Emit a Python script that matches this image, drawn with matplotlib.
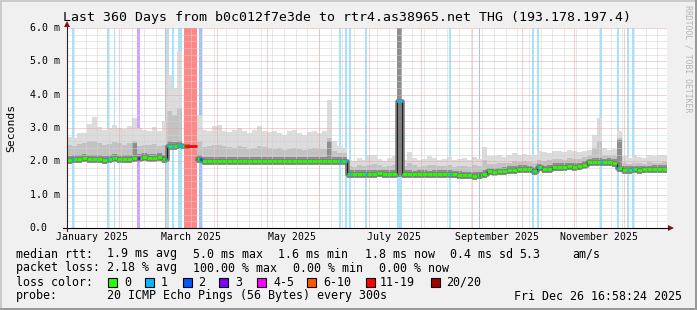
#SmokePing style latency graph: smoke (ping spread), median rtt coloured by loss
#and loss background bars, drawn with matplotlib

from datetime import datetime
import numpy as np
import matplotlib.pyplot as plt
from matplotlib.patches import Rectangle, Polygon
from matplotlib.lines import Line2D

nan = np.nan
W, H = 697, 310 #picture size in pixels

start = datetime(2024, 12, 31, 16, 58, 24)#first time of the graph
span_days = 360
step_days = 3#one sample every 3 days

#median rtt (ms) per sample
med = [
    2.05, 2.07, 2.06, 2.09, 2.07, 2.08, 2.06, 2.05, 2.08, 2.09,
    2.07, 2.06, 2.08, 2.10, 2.11, 2.13, 2.10, 2.09, 2.12, 2.07,
    2.47, 2.46, 2.48, 2.46, nan, nan, 2.08, 2.01, 2.00, 2.01,
    2.02, 2.00, 2.01, 2.00, 2.00, 2.01, 2.02, 2.00, 2.01, 2.01,
    2.00, 2.00, 2.01, 2.02, 2.01, 2.00, 2.00, 2.01, 2.00, 2.01,
    2.02, 2.01, 2.00, 2.01, 2.02, 2.01, 1.63, 1.62, 1.63, 1.63,
    1.62, 1.63, 1.64, 1.63, 1.62, 1.63, 3.80, 1.62, 1.62, 1.61,
    1.62, 1.62, 1.61, 1.62, 1.63, 1.62, 1.62, 1.61, 1.60, 1.58,
    1.58, 1.57, 1.58, 1.62, 1.70, 1.69, 1.70, 1.72, 1.74, 1.75,
    1.77, 1.78, 1.76, 1.70, 1.82, 1.76, 1.78, 1.83, 1.84, 1.84,
    1.85, 1.84, 1.85, 1.90, 1.97, 1.98, 1.98, 1.97, 1.98, 1.96,
    1.80, 1.74, 1.75, 1.76, 1.75, 1.76, 1.76, 1.77, 1.78, 1.77,
]
#slowest ping (ms)
top = [
    2.74, 2.70, 2.85, 2.85, 3.12, 3.34, 3.04, 2.94, 3.00, 3.10,
    3.00, 2.98, 3.05, 3.30, 3.00, 2.95, 2.90, 3.02, 2.90, 3.20,
    4.60, 4.20, 5.30, 3.40, nan, nan, 3.40, 2.95, 2.90, 3.05,
    3.10, 2.92, 2.88, 2.95, 3.00, 2.90, 2.85, 2.95, 3.05, 2.90,
    2.88, 2.92, 2.85, 2.80, 2.90, 2.95, 2.85, 2.80, 2.88, 2.92,
    2.85, 2.90, 3.85, 2.60, 2.45, 2.40, 2.05, 2.00, 2.10, 2.05,
    2.18, 2.20, 2.08, 2.02, 2.10, 2.15, 9.00, 2.05, 2.28, 2.10,
    2.05, 2.08, 2.15, 2.10, 2.05, 2.08, 2.12, 2.05, 2.08, 2.10,
    2.05, 2.12, 2.08, 2.43, 2.15, 2.15, 2.20, 2.12, 2.18, 2.25,
    2.20, 2.22, 2.18, 2.20, 2.30, 2.28, 2.25, 2.32, 2.30, 2.28,
    2.34, 2.30, 2.28, 2.32, 2.35, 2.80, 3.30, 2.40, 2.35, 2.38,
    2.90, 2.15, 2.10, 2.18, 2.12, 2.10, 2.20, 2.15, 2.18, 2.20,
]
#upper edge of the medium smoke
hi = [
    2.50, 2.45, 2.52, 2.55, 2.60, 2.62, 2.55, 2.50, 2.52, 2.58,
    2.55, 2.50, 2.55, 2.60, 2.45, 2.50, 2.48, 2.52, 2.45, 2.50,
    3.50, 3.40, 3.60, 3.00, nan, nan, 2.60, 2.42, 2.45, 2.48,
    2.50, 2.45, 2.42, 2.40, 2.45, 2.42, 2.38, 2.40, 2.45, 2.42,
    2.40, 2.38, 2.40, 2.35, 2.38, 2.40, 2.36, 2.35, 2.38, 2.40,
    2.36, 2.38, 2.70, 2.30, 2.25, 2.25, 1.85, 1.82, 1.88, 1.85,
    1.90, 1.92, 1.88, 1.84, 1.86, 1.88, 9.00, 1.85, 1.95, 1.88,
    1.84, 1.86, 1.90, 1.88, 1.85, 1.86, 1.88, 1.84, 1.85, 1.86,
    1.82, 1.88, 1.86, 2.05, 1.92, 1.92, 1.95, 1.94, 1.96, 2.00,
    1.98, 2.00, 1.98, 1.95, 2.05, 2.02, 2.03, 2.08, 2.06, 2.05,
    2.10, 2.08, 2.06, 2.12, 2.18, 2.40, 2.60, 2.20, 2.18, 2.20,
    2.70, 1.95, 1.92, 1.96, 1.94, 1.93, 1.98, 1.95, 1.96, 1.98,
]
#upper edge of the dark smoke
mid = [
    2.17, 2.19, 2.18, 2.21, 2.19, 2.20, 2.18, 2.17, 2.20, 2.21,
    2.19, 2.18, 2.20, 2.55, 2.23, 2.25, 2.22, 2.21, 2.24, 2.19,
    2.60, 2.58, 2.60, 2.58, nan, nan, 2.20, 2.13, 2.12, 2.13,
    2.14, 2.12, 2.13, 2.12, 2.12, 2.13, 2.14, 2.12, 2.13, 2.13,
    2.12, 2.12, 2.13, 2.14, 2.13, 2.12, 2.12, 2.13, 2.12, 2.13,
    2.14, 2.13, 2.60, 2.13, 2.14, 2.13, 1.74, 1.73, 1.74, 1.74,
    1.73, 1.74, 1.75, 1.74, 1.73, 1.74, 9.00, 1.73, 1.73, 1.72,
    1.73, 1.73, 1.72, 1.73, 1.74, 1.73, 1.73, 1.72, 1.71, 1.69,
    1.69, 1.68, 1.69, 1.73, 1.81, 1.80, 1.81, 1.83, 1.85, 1.86,
    1.88, 1.89, 1.87, 1.81, 1.93, 1.87, 1.89, 1.94, 1.95, 1.95,
    1.96, 1.95, 1.96, 2.01, 2.08, 2.09, 2.09, 2.08, 2.09, 2.07,
    2.65, 1.85, 1.86, 1.87, 1.86, 1.87, 1.87, 1.88, 1.89, 1.88,
]
#fastest ping (ms)
low = [
    1.93, 1.95, 1.94, 1.97, 1.95, 1.96, 1.94, 1.93, 1.96, 1.97,
    1.95, 1.94, 1.96, 1.98, 1.99, 2.01, 1.98, 1.97, 2.00, 1.95,
    2.35, 2.34, 2.36, 2.34, nan, nan, 1.96, 1.89, 1.88, 1.89,
    1.90, 1.88, 1.89, 1.88, 1.88, 1.89, 1.90, 1.88, 1.89, 1.89,
    1.88, 1.88, 1.89, 1.90, 1.89, 1.88, 1.88, 1.89, 1.88, 1.89,
    1.90, 1.89, 1.88, 1.89, 1.90, 1.89, 1.51, 1.50, 1.51, 1.51,
    1.50, 1.51, 1.52, 1.51, 1.50, 1.51, 1.52, 1.50, 1.50, 1.49,
    1.50, 1.50, 1.49, 1.50, 1.51, 1.50, 1.50, 1.49, 1.48, 1.46,
    1.46, 1.45, 1.46, 1.50, 1.58, 1.57, 1.58, 1.60, 1.62, 1.63,
    1.65, 1.66, 1.64, 1.58, 1.70, 1.64, 1.66, 1.71, 1.72, 1.72,
    1.73, 1.72, 1.73, 1.78, 1.85, 1.86, 1.86, 1.85, 1.86, 1.84,
    1.68, 1.62, 1.63, 1.64, 1.63, 1.64, 1.64, 1.65, 1.66, 1.65,
]

#loss events: start day, end day, lost pings out of 20
loss_start = [3.0, 24.0, 27.9, 42.0, 58.5, 60.0, 63.0, 66.6, 70.2, 79.2,
              163.2, 166.8, 169.2, 178.8, 198.0, 229.2, 246.9, 279.0, 282.0,
              319.8, 330.0, 336.0, 339.0]
loss_end = [3.9, 25.2, 28.8, 43.8, 59.4, 61.2, 64.2, 69.0, 78.0, 81.0,
            164.4, 168.0, 170.4, 180.0, 201.0, 230.4, 247.8, 280.2, 283.2,
            321.0, 331.2, 337.2, 340.2]
loss_level = [1, 1, 1, 3, 2, 1, 1, 1, 15, 2,
              1, 1, 1, 1, 1, 1, 2, 1, 1,
              1, 1, 1, 1]

loss_names = ["0", "1", "2", "3", "4-5", "6-10", "11-19", "20/20"]
loss_colors = ["#26ff00", "#00b8ff", "#0059ff", "#7e00ff", "#ff00ff", "#ff5500", "#ff0000", "#a10000"]

month_labels = ["January 2025", "March 2025", "May 2025", "July 2025", "September 2025", "November 2025"]
y_labels = ["0.0", "1.0 m", "2.0 m", "3.0 m", "4.0 m", "5.0 m", "6.0 m"]

title = "Last 360 Days from b0c012f7e3de to rtr4.as38965.net THG (193.178.197.4)"
mono = "DejaVu Sans Mono"

def fx(x):#pixel -> figure coordinate
    return x / W
def fy(y):
    return 1 - y / H
def day(d):
    return (d - start).total_seconds() / 86400.0
def level_color(n):
    if n <= 3: return loss_colors[n]
    if n <= 5: return loss_colors[4]
    if n <= 10: return loss_colors[5]
    if n <= 19: return loss_colors[6]
    return loss_colors[7]

fig = plt.figure(figsize=(W / 100, H / 100), dpi=100, facecolor="#f0f0f0")
ax = fig.add_axes([fx(67), fy(228), 600 / W, 200 / H])
ax.set_facecolor("white")
ax.set_xlim(0, span_days)
ax.set_ylim(0, 6)
for s in ax.spines.values():
    s.set_visible(False)
ax.set_xticks([]); ax.set_yticks([])

xe = np.arange(len(med) + 1) * step_days
ext = lambda a: np.append(np.array(a, float), a[-1])

#loss background bars (behind the smoke)
for s, e, n in zip(loss_start, loss_end, loss_level):
    a = 0.47 if n > 10 else 0.36
    ax.axvspan(s, e, color=level_color(n), alpha=a, lw=0, zorder=0.5)

#smoke
ax.fill_between(xe, ext(low), ext(top), step="post", color="#dcdcdc", lw=0, zorder=1)
ax.fill_between(xe, ext(low), ext(hi), step="post", color="#c2c2c2", lw=0, zorder=1)
ax.fill_between(xe, ext(low), ext(mid), step="post", color="#8e8e8e", lw=0, zorder=1)

#grid: minor every 0.2 ms and every week, major every 1 ms and every month
for v in np.arange(1, 30):
    if v % 5:
        ax.axhline(v * 0.2, color="#d2d2d2", lw=0.72, ls=(0, (1, 1)), zorder=2)
months = [day(datetime(2025, m, 1)) for m in range(1, 13)]
weeks = np.arange(day(datetime(2025, 1, 5)), span_days, 7)
for w in weeks:
    ax.axvline(w, color="#d2d2d2", lw=0.72, ls=(0, (1, 1)), zorder=2)
for v in range(1, 7):
    ax.axhline(v, color="#eba3a3", lw=0.72, ls=(0, (1, 1)), zorder=2)
for m in months:
    ax.axvline(m, color="#eba3a3", lw=0.72, ls=(0, (1, 1)), zorder=2)

#median line
ax.plot(xe, ext(med), drawstyle="steps-post", color="#7c7c7c", lw=3.3, zorder=4)
ax.plot(xe, ext(med), drawstyle="steps-post", color="#202020", lw=0.8, zorder=5)
ax.hlines(med, xe[:-1], xe[1:], color=loss_colors[0], lw=2.0, zorder=6)
medarr = np.array(med)
for s, e, n in zip(loss_start, loss_end, loss_level):
    m = medarr[min(int(s // step_days), len(med) - 1)]
    if not np.isnan(m):
        ax.hlines(m, s, e, color=level_color(n), lw=2.0, zorder=7)

#axes with arrows
fig.add_artist(Line2D([fx(63), fx(668)], [fy(228), fy(228)], color="black", lw=0.8))
fig.add_artist(Line2D([fx(67), fx(67)], [fy(231), fy(27)], color="#3a2020", lw=0.8))
fig.add_artist(Polygon([(fx(668), fy(225)), (fx(668), fy(231)), (fx(674), fy(228))],
                       closed=True, color="#8b1010", lw=0))
fig.add_artist(Polygon([(fx(64), fy(27)), (fx(70), fy(27)), (fx(67), fy(21))],
                       closed=True, color="#8b1010", lw=0))

#tick labels
for i, lab in enumerate(y_labels):
    ax.text(-0.0625, i, lab, transform=ax.get_yaxis_transform(), ha="left", va="center",
            fontsize=7.1, family=mono)
for k, lab in enumerate(month_labels):
    ax.text(months[2 * k] + 15, -0.045, lab, transform=ax.get_xaxis_transform(),
            ha="center", va="center", fontsize=7.1, family=mono)

fig.text(fx(347), fy(18), title, ha="center", va="center", fontsize=9.5, family=mono)
fig.text(fx(11), fy(128), "Seconds", rotation=90, ha="center", va="center", fontsize=8.2, family=mono)
fig.text(fx(688), fy(59), "RRDTOOL / TOBI OETIKER", rotation=270, ha="center", va="center",
         fontsize=5.9, family=mono, color="#b4b4b4")

#legend
rows = [
    (254, [("median rtt:", 16), ("1.9 ms avg", 107), ("5.0 ms max", 193), ("1.6 ms min", 278),
           ("1.8 ms now", 365), ("0.4 ms sd", 450), ("5.3", 519), ("am/s", 572)]),
    (268, [("packet loss:", 16), ("2.18 % avg", 107), ("100.00 % max", 193),
           ("0.00 % min", 293), ("0.00 % now", 379)]),
    (282, [("loss color:", 16)]),
    (296, [("probe:", 16), ("20 ICMP Echo Pings (56 Bytes) every 300s", 107),
           ("Fri Dec 26 16:58:24 2025", 514)]),
]
for y, items in rows:
    for txt, x in items:
        fig.text(fx(x), fy(y), txt, ha="left", va="center", fontsize=8.4, family=mono)

sw_x = [108, 145, 183, 219, 257, 307, 366, 431]
lab_x = [124, 161, 198, 235, 273, 323, 380, 446]
for name, col, sx, lx in zip(loss_names, loss_colors, sw_x, lab_x):
    fig.add_artist(Rectangle((fx(sx), fy(287)), 9 / W, 9 / H, facecolor=col, edgecolor="black", lw=0.8))
    fig.text(fx(lx), fy(282), name, ha="left", va="center", fontsize=8.4, family=mono)

#3d border of the picture
fig.add_artist(Rectangle((0, fy(2)), 1, 2 / H, color="#cbcbcb", lw=0))
fig.add_artist(Rectangle((0, 0), 2 / W, 1, color="#cbcbcb", lw=0))
fig.add_artist(Rectangle((0, 0), 1, 2 / H, color="#999999", lw=0))
fig.add_artist(Rectangle((1 - 2 / W, 0), 2 / W, 1, color="#999999", lw=0))

plt.savefig("out.png", dpi=100, facecolor=fig.get_facecolor())
